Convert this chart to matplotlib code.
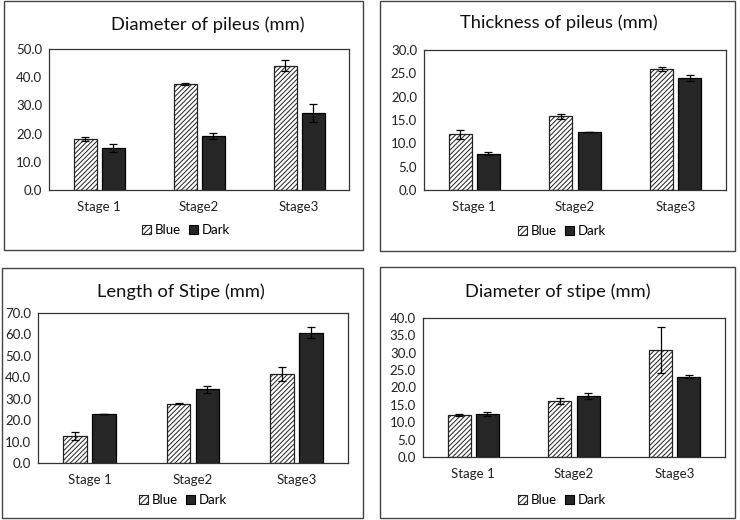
import matplotlib
matplotlib.use("Agg")
import matplotlib.pyplot as plt
import numpy as np
from matplotlib.patches import Rectangle, Patch

plt.rcParams['font.family'] = ['Lato', 'DejaVu Sans']
plt.rcParams['hatch.color'] = '#555555'
plt.rcParams['hatch.linewidth'] = 0.7

categories = ["Stage 1", "Stage2", "Stage3"]
series_names = ["Blue", "Dark"]

titles = ["Diameter of pileus (mm)", "Thickness of pileus (mm)",
          "Length of Stipe (mm)", "Diameter of stipe (mm)"]

dp_blue = [18.0, 37.7, 44.1]
dp_blue_err = [0.8, 0.3, 1.9]
dp_dark = [14.8, 19.1, 27.3]
dp_dark_err = [1.4, 1.1, 3.3]

tp_blue = [11.9, 15.8, 25.9]
tp_blue_err = [0.9, 0.5, 0.5]
tp_dark = [7.8, 12.4, 24.0]
tp_dark_err = [0.4, 0.0, 0.7]

ls_blue = [12.7, 27.7, 41.6]
ls_blue_err = [1.9, 0.2, 3.3]
ls_dark = [23.0, 34.4, 60.8]
ls_dark_err = [0.0, 1.6, 2.5]

ds_blue = [12.1, 16.2, 30.7]
ds_blue_err = [0.3, 0.9, 6.6]
ds_dark = [12.4, 17.6, 23.1]
ds_dark_err = [0.6, 0.9, 0.5]

y_max = [50, 30, 70, 40]
y_step = [10, 5, 10, 5]

W, H = 740, 520
fig = plt.figure(figsize=(7.4, 5.2), dpi=100)

def fr(x0, y0, x1, y1):
    return [x0 / W, 1 - y1 / H, (x1 - x0) / W, (y1 - y0) / H]

# panel borders (pixel coords)
borders = [(4, 1, 363, 250), (380, 1, 735, 251), (2, 268, 363, 518), (380, 267, 735, 518)]
axes_px = [(49, 49, 349, 190), (424, 50, 726, 190), (38, 313, 348, 463), (423, 318, 725, 457)]
title_xy = [(208, 25), (559, 23), (181, 292), (558, 292)]
legend_xy = [(186, 230), (562, 231), (183, 500), (562, 500)]

data = [(dp_blue, dp_blue_err, dp_dark, dp_dark_err),
        (tp_blue, tp_blue_err, tp_dark, tp_dark_err),
        (ls_blue, ls_blue_err, ls_dark, ls_dark_err),
        (ds_blue, ds_blue_err, ds_dark, ds_dark_err)]

for i in range(4):
    bx0, by0, bx1, by1 = borders[i]
    fig.patches.append(Rectangle((bx0 / W, 1 - by1 / H), (bx1 - bx0) / W, (by1 - by0) / H,
                                 transform=fig.transFigure, fill=False,
                                 edgecolor='#444444', linewidth=1.0))
    ax = fig.add_axes(fr(*axes_px[i]))
    b, be, d, de = data[i]
    x = np.arange(len(categories))
    w = 0.23
    ax.bar(x - 0.14, b, w, color='white', edgecolor='#222222', hatch='///////',
           linewidth=0.9, yerr=be, capsize=3,
           error_kw=dict(elinewidth=0.9, capthick=0.9, ecolor='black'), label=series_names[0])
    ax.bar(x + 0.14, d, w, color='#262626', edgecolor='black',
           linewidth=0.9, yerr=de, capsize=3,
           error_kw=dict(elinewidth=0.9, capthick=0.9, ecolor='black'), label=series_names[1])
    ax.set_xlim(-0.5, 2.5)
    ax.set_ylim(0, y_max[i])
    ax.set_yticks(np.arange(0, y_max[i] + 0.01, y_step[i]))
    ax.set_yticklabels([f"{v:.1f}" for v in np.arange(0, y_max[i] + 0.01, y_step[i])])
    ax.set_xticks(x)
    ax.set_xticklabels(categories)
    ax.tick_params(axis='both', length=0, labelsize=9.5, colors='#222222')
    ax.tick_params(axis='x', pad=8)
    ax.tick_params(axis='y', pad=5)
    for s in ax.spines.values():
        s.set_color('#333333')
        s.set_linewidth(0.9)
    tx, ty = title_xy[i]
    fig.text(tx / W, 1 - ty / H, titles[i], ha='center', va='center',
             fontsize=13.2, color='#111111')
    handles = [Patch(facecolor='white', edgecolor='#222222', hatch='//////', linewidth=0.8),
               Patch(facecolor='#262626', edgecolor='black', linewidth=0.8)]
    lx, ly = legend_xy[i]
    fig.legend(handles, series_names, loc='center', bbox_to_anchor=(lx / W, 1 - ly / H),
               ncol=2, frameon=False, fontsize=9.5, handlelength=0.7, handleheight=0.7,
               handletextpad=0.3, columnspacing=0.6)

fig.savefig("out.png", dpi=100)
